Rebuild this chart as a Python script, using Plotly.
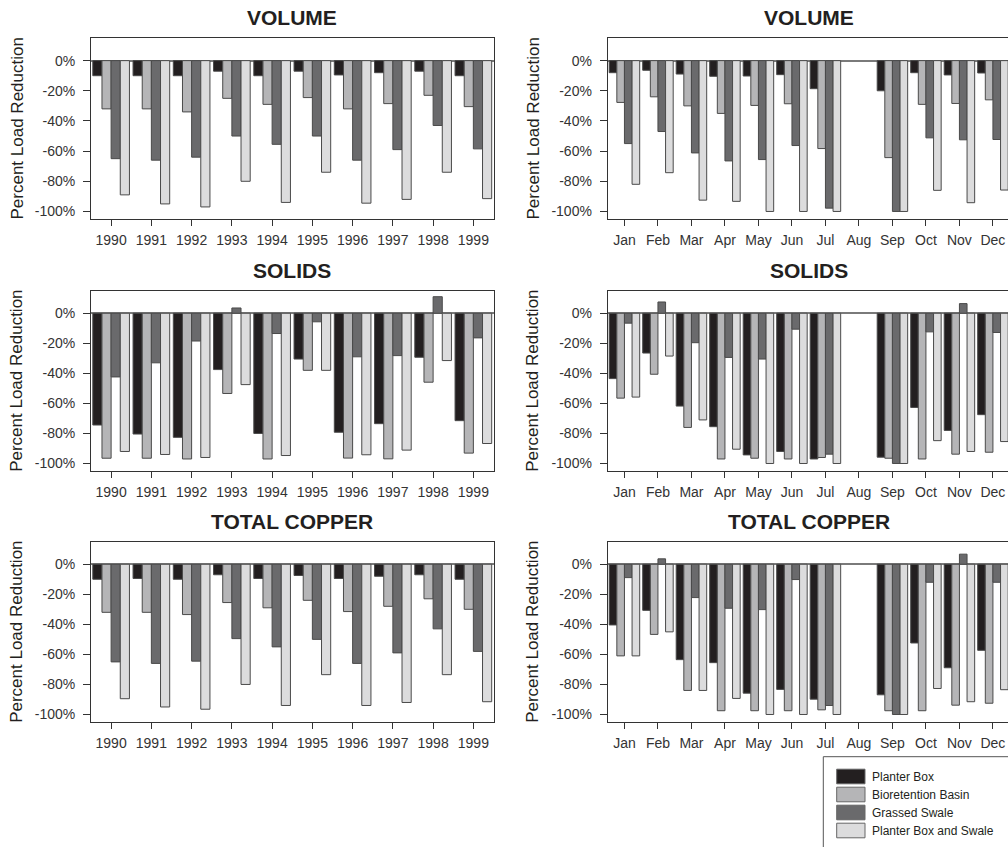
import plotly.graph_objects as go

# ---------------- data ----------------
years = ["1990", "1991", "1992", "1993", "1994", "1995", "1996", "1997", "1998", "1999"]
months = ["Jan", "Feb", "Mar", "Apr", "May", "Jun", "Jul", "Aug", "Sep", "Oct", "Nov", "Dec"]
series_names = ["Planter Box", "Bioretention Basin", "Grassed Swale", "Planter Box and Swale"]
y_tick_values = [0, -20, -40, -60, -80, -100]
y_tick_labels = ["0%", "-20%", "-40%", "-60%", "-80%", "-100%"]

# Volume, by year (%)
vol_year_planter = [-10, -10, -10, -7, -10, -7, -9.5, -8, -7, -10]
vol_year_bio = [-32, -32, -34, -25, -29, -24.5, -32, -28.5, -23, -30.5]
vol_year_swale = [-65, -66, -64, -50, -55.5, -50, -66, -59, -43, -58.5]
vol_year_combo = [-89, -95, -97, -80, -94, -74, -94.5, -92, -74, -91.5]

# Volume, by month (%) -- no August events
vol_month_planter = [-8, -6.4, -8.9, -10.4, -10.2, -9.3, -18.6, None, -20, -8, -9.5, -8.2]
vol_month_bio = [-27.7, -24, -30, -35, -29.7, -28.6, -58.3, None, -64.3, -29, -28.4, -26]
vol_month_swale = [-55, -47, -61.2, -66.5, -65.6, -56.3, -97.8, None, -100, -51.2, -52.5, -52.3]
vol_month_combo = [-82, -74.3, -92.5, -93.3, -100, -100, -100, None, -100, -86, -94.2, -85.8]

# Solids, by year (%)
sol_year_planter = [-74.4, -80.4, -82.6, -37.5, -80, -30.5, -79.2, -73.5, -29.3, -71.5]
sol_year_bio = [-96.5, -96.5, -97, -53.4, -97, -38, -96.4, -96.9, -45.9, -93.1]
sol_year_swale = [-42.4, -33, -18.5, 3.5, -13.5, -5.7, -29, -28.2, 11, -16.4]
sol_year_combo = [-92, -94, -96, -47.5, -94.7, -38, -94.2, -91.1, -31.5, -86.7]

# Solids, by month (%)
sol_month_planter = [-43.5, -26.5, -61.8, -75.5, -94.3, -92, -97, None, -95.8, -62.7, -78, -67.5]
sol_month_bio = [-56.5, -40.6, -76, -97, -96.5, -97, -96, None, -96.5, -97, -93.8, -92.5]
sol_month_swale = [-6.6, 7.5, -19.6, -29.4, -30.5, -10.6, -93.8, None, -100, -12.4, 6.4, -12.8]
sol_month_combo = [-55.8, -28.5, -71, -90.5, -100, -100, -100, None, -100, -84.8, -92, -85.4]

# Total copper, by year (%)
cu_year_planter = [-10, -9.5, -10, -7, -9.5, -7.5, -9.5, -8, -7, -10]
cu_year_bio = [-32, -32, -33.5, -25.5, -29, -24, -31.5, -28, -23, -30]
cu_year_swale = [-65, -66, -64.5, -49.5, -55, -50, -66, -59, -43, -58]
cu_year_combo = [-89.5, -95, -96.5, -80, -94, -73.5, -94, -92, -73.5, -91.5]

# Total copper, by month (%)
cu_month_planter = [-40.4, -30.7, -63.5, -65.5, -85.8, -83.3, -89.8, None, -86.9, -52.4, -68.9, -57.3]
cu_month_bio = [-61, -46.7, -84, -97.5, -97.5, -97.5, -96.9, None, -97.5, -97.5, -93.8, -92.5]
cu_month_swale = [-8.9, 3.6, -22.2, -29.3, -30.2, -10.2, -94, None, -100, -12, 6.7, -12]
cu_month_combo = [-61, -45, -84, -89.3, -100, -100, -100, None, -100, -82.7, -91.5, -83.5]

panel_titles = ["VOLUME", "VOLUME", "SOLIDS", "SOLIDS", "TOTAL COPPER", "TOTAL COPPER"]
y_title = "Percent Load Reduction"

# ---------------- styling ----------------
W, H = 1008, 847
FONT = "Liberation Sans, Arial, Helvetica, sans-serif"
fill_colors = ["#231f20", "#b5b5b7", "#6a6a6c", "#dcdcdd"]
edge_color = "#4a4a4a"
axis_color = "#333333"
text_color = "#231f20"


def fx(px):
    return px / W


def fy(px):
    return 1 - px / H


# plot-box pixel extents
left_x = (91, 493.5)
right_x = (607.7, 1008)
rows_y = [(38, 219), (290.7, 471), (541.7, 722)]

panels = [
    (years, [vol_year_planter, vol_year_bio, vol_year_swale, vol_year_combo]),
    (months, [vol_month_planter, vol_month_bio, vol_month_swale, vol_month_combo]),
    (years, [sol_year_planter, sol_year_bio, sol_year_swale, sol_year_combo]),
    (months, [sol_month_planter, sol_month_bio, sol_month_swale, sol_month_combo]),
    (years, [cu_year_planter, cu_year_bio, cu_year_swale, cu_year_combo]),
    (months, [cu_month_planter, cu_month_bio, cu_month_swale, cu_month_combo]),
]

fig = go.Figure()
layout_axes = {}
annotations = []

for i, (cats, groups) in enumerate(panels):
    n = i + 1
    xs = "" if n == 1 else str(n)
    is_right = i % 2 == 1
    row = i // 2
    xpx = right_x if is_right else left_x
    ypx = rows_y[row]

    for s, vals in enumerate(groups):
        fig.add_trace(go.Bar(
            x=cats, y=vals, name=series_names[s],
            xaxis="x" + xs, yaxis="y" + xs,
            marker=dict(color=fill_colors[s], line=dict(color=edge_color, width=1)),
            showlegend=False, offsetgroup=str(s),
        ))

    layout_axes["xaxis" + xs] = dict(
        domain=[fx(xpx[0]), fx(xpx[1])], anchor="y" + xs,
        type="category", categoryorder="array", categoryarray=cats,
        range=[-0.5, 11.45] if is_right else [-0.5, len(cats) - 0.5],
        showline=True, mirror=True, linecolor=axis_color, linewidth=1,
        ticks="outside", ticklen=6, tickcolor=axis_color, tickwidth=1,
        tickfont=dict(family=FONT, size=14, color="#333333"),
        ticklabelstandoff=2,
        showgrid=False, zeroline=False, fixedrange=True,
    )
    layout_axes["yaxis" + xs] = dict(
        domain=[fy(ypx[1]), fy(ypx[0])], anchor="x" + xs,
        range=[-105, 15],
        tickvals=y_tick_values, ticktext=y_tick_labels,
        showline=True, mirror=not is_right, linecolor=axis_color, linewidth=1,
        ticks="outside", ticklen=7, tickcolor=axis_color, tickwidth=1,
        tickfont=dict(family=FONT, size=14, color="#333333"),
        ticklabelstandoff=5,
        showgrid=False, zeroline=True, zerolinecolor="#7a7a7a", zerolinewidth=1.5,
        fixedrange=True,
    )

    # panel title
    annotations.append(dict(
        text=panel_titles[i], xref="paper", yref="paper",
        x=fx((xpx[0] + (xpx[1] if not is_right else 1009.4)) / 2), y=fy(ypx[0] - 20),
        xanchor="center", yanchor="middle", showarrow=False,
        font=dict(family=FONT, size=21, color=text_color, weight=700),
    ))
    # y-axis title
    annotations.append(dict(
        text=y_title, xref="paper", yref="paper",
        x=fx(533 if is_right else 17), y=fy((ypx[0] + ypx[1]) / 2),
        xanchor="center", yanchor="middle", showarrow=False, textangle=-90,
        font=dict(family=FONT, size=17, color=text_color),
    ))

# ---------------- legend box ----------------
shapes = [dict(
    type="rect", xref="paper", yref="paper",
    x0=fx(823.3), x1=fx(1030), y0=fy(756.7), y1=fy(880),
    line=dict(color="#555555", width=1), fillcolor="rgba(0,0,0,0)",
)]
legend_rows = [776.5, 794.5, 812.5, 830.5]
for s, name in enumerate(series_names):
    cy = legend_rows[s]
    shapes.append(dict(
        type="rect", xref="paper", yref="paper",
        x0=fx(836.7), x1=fx(865), y0=fy(cy + 7.3), y1=fy(cy - 7.3),
        line=dict(color="#666666", width=1), fillcolor=fill_colors[s],
    ))
    annotations.append(dict(
        text=name, xref="paper", yref="paper",
        x=fx(870), y=fy(cy), xanchor="left", yanchor="middle", showarrow=False,
        font=dict(family=FONT, size=12, color=text_color),
    ))

fig.update_layout(
    width=W, height=H,
    margin=dict(l=0, r=0, t=0, b=0),
    paper_bgcolor="white", plot_bgcolor="white",
    barmode="group", bargap=0.09, bargroupgap=0,
    annotations=annotations, shapes=shapes,
    showlegend=False,
    **layout_axes,
)

fig.write_html("out.html")
